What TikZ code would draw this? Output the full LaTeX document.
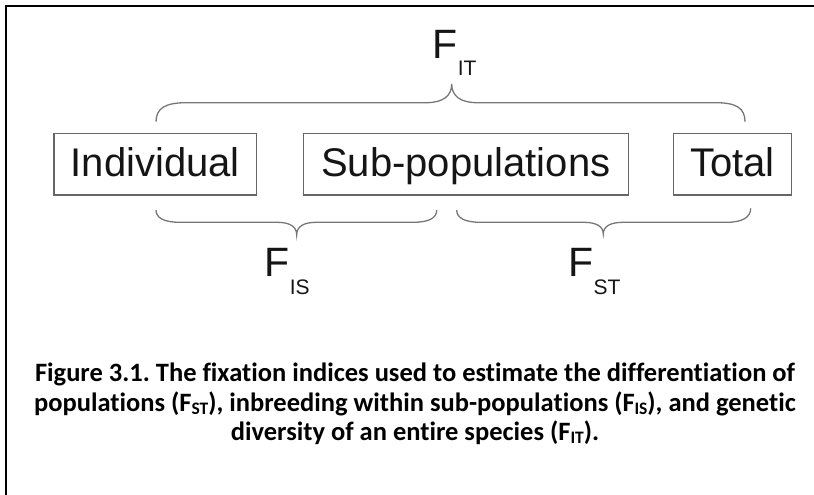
\documentclass[tikz,border=0pt]{standalone}
\usepackage{fontspec}
\setmainfont{Liberation Sans}
\newfontfamily\capfont[Ligatures=NoCommon]{Carlito}
\definecolor{boxgray}{HTML}{666666}
\definecolor{bracegray}{HTML}{777777}
\definecolor{ink}{HTML}{151515}
\newcommand\sublab[1]{\raisebox{-17.5pt}{\fontsize{21}{21}\selectfont #1}}
\newcommand\capsub[1]{\raisebox{-3pt}{\fontsize{17.5}{17.5}\selectfont #1}}
\frenchspacing
\begin{document}
\begin{tikzpicture}[x=1pt,y=-1pt,
  box/.style={draw=boxgray, line width=1.3pt, inner sep=0pt, text=ink,
    minimum height=61.7pt, text height=29pt, text depth=4pt,
    font=\fontsize{40}{48}\selectfont},
  lab/.style={inner sep=0pt, text=ink, font=\fontsize{41}{41}\selectfont},
  bracepath/.style={draw=bracegray, line width=1.3pt},
  captext/.style={inner sep=0pt, text=black, font=\capfont\bfseries\fontsize{26.5}{31}\selectfont}]
\useasboundingbox (0,0) rectangle (814,495);
% outer frame
\draw[line width=1.7pt, black] (6,495) -- (6,6) -- (814,6);
% boxes
\node[box, minimum width=202.7pt] (ind) at (155.35,164.15) {Individual};
\node[box, minimum width=325pt] (sub) at (465.8,164.15) {Sub-populations};
\node[box, minimum width=118.4pt] (tot) at (732.5,164.15) {Total};
% labels
\node[lab, anchor=base west] (fit) at (432.6,58.3) {F\sublab{IT}};
\node[lab, anchor=base west] (fis) at (264.6,276.7) {F\sublab{IS}};
\node[lab, anchor=base west] (fst) at (568.3,276.7) {F\sublab{ST}};
% top brace
\draw[bracepath] (156,121.7) .. controls (156,108) and (166,102.7) .. (186,102.7)
  -- (426,102.7) .. controls (443,102.7) and (451.7,96) .. (451.7,84)
  .. controls (451.7,96) and (460.4,102.7) .. (477.4,102.7)
  -- (716,102.7) .. controls (736,102.7) and (745,108) .. (745,121.7);
% bottom left brace
\draw[bracepath] (156,210) .. controls (156,218) and (164,222.3) .. (180,222.3)
  -- (277,222.3) .. controls (289,222.3) and (296.7,226) .. (296.7,235)
  .. controls (296.7,226) and (304.4,222.3) .. (316.4,222.3)
  -- (413,222.3) .. controls (429,222.3) and (436.7,218) .. (436.7,210);
% bottom right brace
\draw[bracepath] (456.7,210) .. controls (456.7,218) and (464.7,222.3) .. (480.7,222.3)
  -- (583.6,222.3) .. controls (595.6,222.3) and (603.3,226) .. (603.3,234)
  .. controls (603.3,226) and (611,222.3) .. (623,222.3)
  -- (726.7,222.3) .. controls (742.7,222.3) and (750.7,217) .. (750.7,208.3);
% caption
\node[captext, anchor=base] (c1) at (415,381.5) {Figure 3.1. The fixation indices used to estimate the differentiation of};
\node[captext, anchor=base] (c2) at (415,411) {populations (F\capsub{ST}), inbreeding within sub-populations (F\capsub{IS}), and genetic};
\node[captext, anchor=base] (c3) at (415,440.5) {diversity of an entire species (F\capsub{IT}).};
\end{tikzpicture}
\end{document}
